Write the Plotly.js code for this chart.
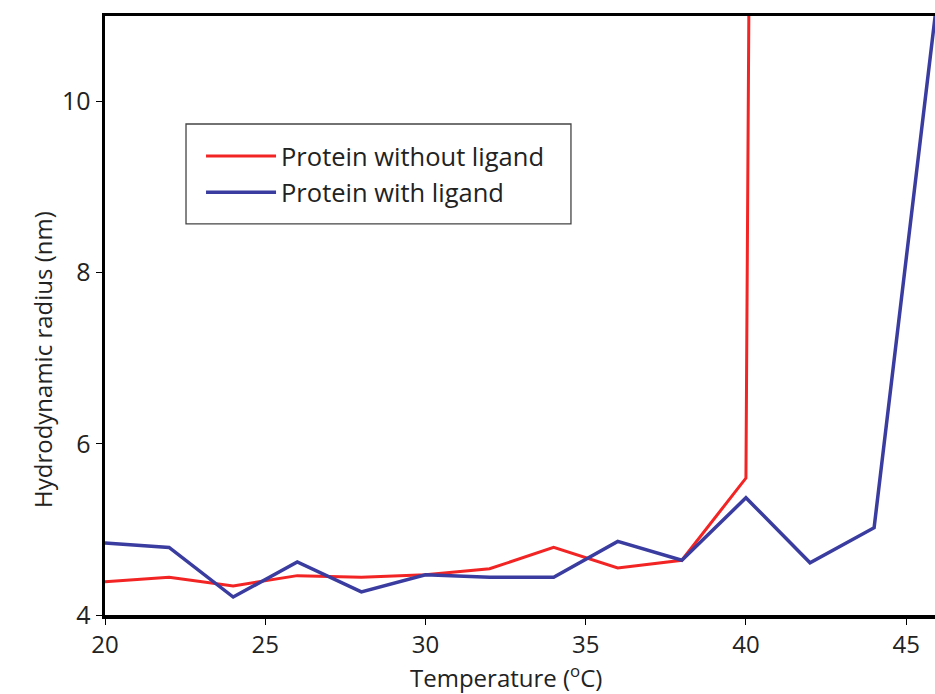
<!DOCTYPE html>
<html>
<head>
<meta charset="utf-8">
<script src="https://cdn.plot.ly/plotly-3.0.1.min.js"></script>
<style>html,body{margin:0;padding:0;background:#fff;}</style>
</head>
<body>
<div id="chart" style="width:935px;height:694px;"></div>
<script>
const tempRed = [20, 22, 24, 26, 28, 30, 32, 34, 36, 38, 40, 42];
const radiusRed = [4.39, 4.44, 4.34, 4.46, 4.44, 4.47, 4.54, 4.79, 4.55, 4.64, 5.60, 125];
const tempBlue = [20, 22, 24, 26, 28, 30, 32, 34, 36, 38, 40, 42, 44, 46];
const radiusBlue = [4.84, 4.79, 4.21, 4.62, 4.27, 4.47, 4.44, 4.44, 4.86, 4.64, 5.37, 4.61, 5.02, 11.3];
const seriesNames = ["Protein without ligand", "Protein with ligand"];
const xTicks = [20, 25, 30, 35, 40, 45];
const yTicks = [4, 6, 8, 10];
const xTitle = 'Temperature (<sup>o</sup>C)';
const yTitle = 'Hydrodynamic radius (nm)';

const traces = [
  {x: tempRed, y: radiusRed, type: 'scatter', mode: 'lines', name: seriesNames[0],
   line: {color: '#f22424', width: 3}},
  {x: tempBlue, y: radiusBlue, type: 'scatter', mode: 'lines', name: seriesNames[1],
   line: {color: '#3a3ca0', width: 3.5}}
];

const fontFam = '"Open Sans", "Noto Sans", sans-serif';
const layout = {
  width: 935, height: 694,
  margin: {l: 105, r: 0, t: 16, b: 79},
  paper_bgcolor: '#fff', plot_bgcolor: '#fff',
  showlegend: true,
  legend: {
    x: 0.1157, y: 0.8047, xanchor: 'left', yanchor: 'top',
    borderwidth: 0, bgcolor: 'rgba(0,0,0,0)',
    font: {family: fontFam, size: 25.5, color: '#222'},
    itemwidth: 70, tracegroupgap: 0
  },
  shapes: [
    {type: 'rect', xref: 'paper', yref: 'paper',
     x0: 0.0976, x1: 0.5614, y0: 0.6528, y1: 0.8197,
     line: {color: '#444', width: 1.3}, fillcolor: 'rgba(0,0,0,0)', layer: 'above'}
  ],
  annotations: [
    {text: xTitle, xref: 'paper', yref: 'paper', x: 0.4831, y: -0.102,
     xanchor: 'center', yanchor: 'middle', showarrow: false,
     font: {family: fontFam, size: 24, color: '#222'}},
    {text: yTitle, xref: 'paper', yref: 'paper', x: -0.0759, y: 0.4257,
     xanchor: 'center', yanchor: 'middle', showarrow: false, textangle: -90,
     font: {family: fontFam, size: 24, color: '#222'}}
  ],
  xaxis: {
    range: [20, 45.9], tickvals: xTicks, ticktext: xTicks.map(String),
    showgrid: false, zeroline: false,
    showline: true, linecolor: '#000', linewidth: 3.5, mirror: true,
    ticks: 'outside', ticklen: 6, tickwidth: 1, tickcolor: '#000',
    tickfont: {family: fontFam, size: 24, color: '#222'}
  },
  yaxis: {
    range: [4, 11], tickvals: yTicks, ticktext: yTicks.map(String),
    showgrid: false, zeroline: false,
    showline: true, linecolor: '#000', linewidth: 3.5,
    ticks: 'outside', ticklen: 6, tickwidth: 1, tickcolor: '#000',
    tickfont: {family: fontFam, size: 25, color: '#222'}
  }
};

Plotly.newPlot('chart', traces, layout, {displayModeBar: false, staticPlot: true});
</script>
</body>
</html>
